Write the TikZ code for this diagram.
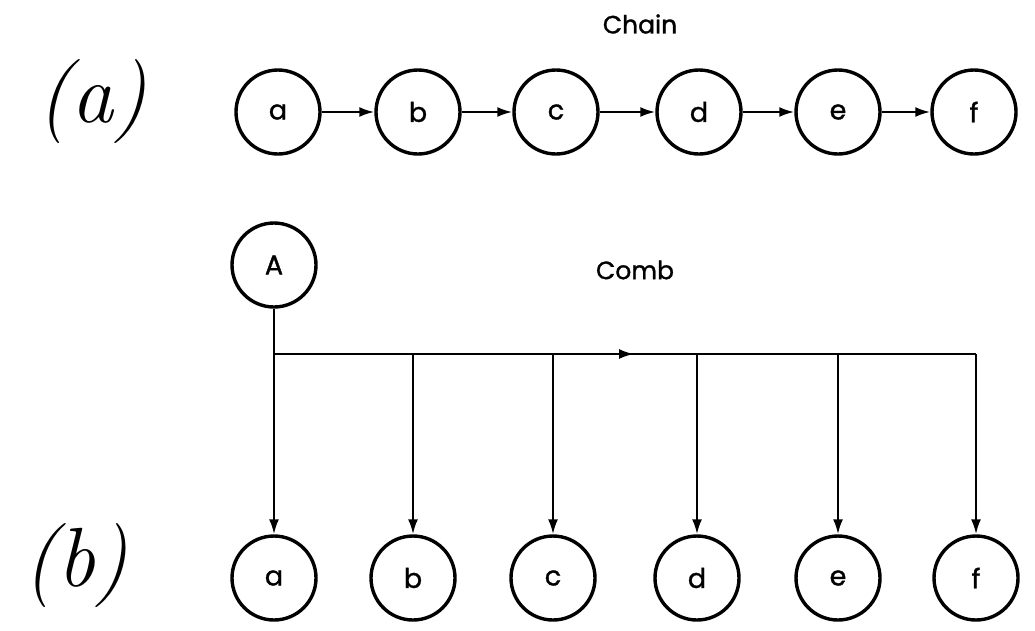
\documentclass[tikz,border=0pt]{standalone}
\usepackage{fontspec}
\newfontfamily\lab{Poppins}[FakeBold=1.2]
\usetikzlibrary{arrows.meta}
\tikzset{
  circ/.style={circle, draw, line width=3.4pt, minimum size=84pt, inner sep=0pt, font=\lab\fontsize{27}{27}\selectfont},
  conn/.style={line width=2.3pt},
  arr/.style={conn, -{Latex[length=15pt,width=10pt]}},
  title/.style={font=\lab\fontsize{25}{25}\selectfont},
  hand/.style={font=\fontsize{84}{84}\selectfont\itshape}
}
\begin{document}
\begin{tikzpicture}[x=1pt,y=-1pt]
\useasboundingbox (0,0) rectangle (1035,630);
% labels
\node[hand] (la) at (92,102) {(a)};
\node[hand] (lb) at (76,566) {(b)};
\node[title] (tchain) at (640,24) {Chain};
\node[title] (tcomb) at (635,270) {Comb};
% chain
\node[circ] (ca) at (278,112) {a};
\node[circ] (cb) at (418,112) {b};
\node[circ] (cc) at (556,112) {c};
\node[circ] (cd) at (699,112) {d};
\node[circ] (ce) at (838,112) {e};
\node[circ] (cf) at (974,112) {f};
\draw[arr] (ca) -- (cb);
\draw[arr] (cb) -- (cc);
\draw[arr] (cc) -- (cd);
\draw[arr] (cd) -- (ce);
\draw[arr] (ce) -- (cf);
% comb
\node[circ] (A) at (274,265) {A};
\node[circ] (ba) at (274,578) {a};
\node[circ] (bb) at (413,578) {b};
\node[circ] (bc) at (553,578) {c};
\node[circ] (bd) at (697,578) {d};
\node[circ] (be) at (838,578) {e};
\node[circ] (bf) at (976,578) {f};
\coordinate (j0) at (274,354);
\coordinate (jm) at (634,354);
\coordinate (jb) at (413,354);
\coordinate (jc) at (553,354);
\coordinate (jd) at (697,354);
\coordinate (je) at (838,354);
\coordinate (jf) at (976,354);
\draw[conn] (j0) -- (jf);
\draw[arr] (j0) -- (jm);
\draw[arr] (A) -- (ba);
\draw[arr] (jb) -- (bb);
\draw[arr] (jc) -- (bc);
\draw[arr] (jd) -- (bd);
\draw[arr] (je) -- (be);
\draw[arr] (jf) -- (bf);
\end{tikzpicture}
\end{document}
